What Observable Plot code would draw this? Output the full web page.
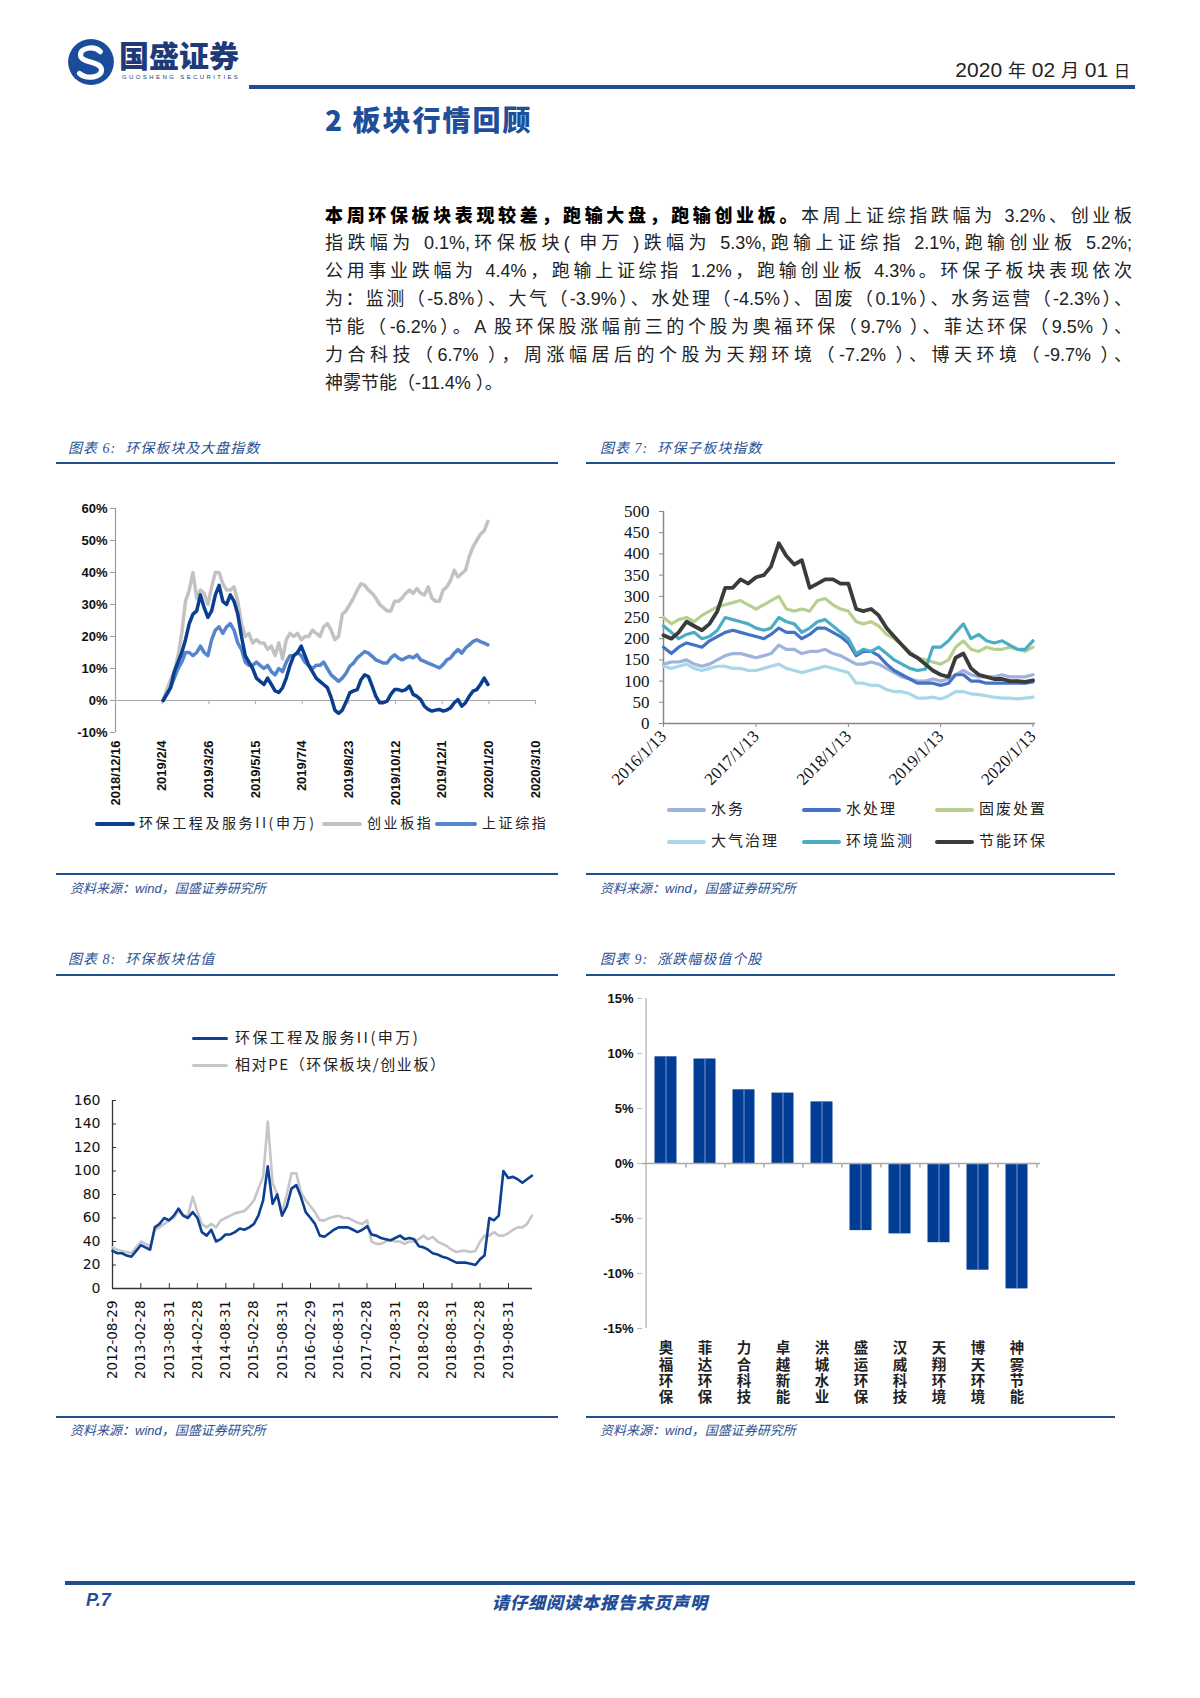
<!DOCTYPE html>
<html><head><meta charset="utf-8">
<script src="https://cdn.jsdelivr.net/npm/d3@7"></script>
<script src="https://cdn.jsdelivr.net/npm/@observablehq/plot@0.6"></script>
<style>
body{margin:0;background:#fff;}
#page{position:relative;width:1200px;height:1698px;overflow:hidden;font-family:"Liberation Sans","Noto Sans CJK SC",sans-serif;color:#111;}
.hl{position:absolute;background:#1f4e8d;}
.ct{position:absolute;font-style:italic;color:#2b5193;font-size:14px;font-family:"Liberation Serif","Noto Sans CJK SC",serif;white-space:nowrap;letter-spacing:1px;}
.src{position:absolute;font-style:italic;color:#2b5193;font-size:13px;font-family:"Liberation Sans","Noto Sans CJK SC",sans-serif;white-space:nowrap;}
.pl{position:absolute;left:325px;width:807px;height:28px;line-height:28px;font-size:18px;white-space:nowrap;text-align:justify;text-align-last:justify;font-family:"Liberation Sans Narrow","Liberation Sans","Noto Sans CJK SC",sans-serif;color:#222;}
.pl b{font-family:"Noto Sans CJK SC";font-weight:900;color:#000;}
.lg{position:absolute;white-space:nowrap;font-family:"Noto Sans CJK SC",sans-serif;color:#222;}
.lg span.s{display:inline-block;vertical-align:middle;}
</style>
</head><body>
<div id="page"></div>
<script>
// ---------------- DATA ----------------
// Chart 6: 环保板块及大盘指数 (readings every 4 days, %)
const c6FirstDate = "2019-02-05";
const c6StepDays = 4;
const c6Env = [0,2,4,9,12,15,19,24,27,28, 33,29,26,28,33,36,31,30,33,31, 27,20,14,12,10,7,6,5,7,5, 3,2.5,4,7,11,14,15,17,14,11, 9,7,6,5,4,1,-3,-4,-3,-0.5, 2.4,3,3.4,6.5,8,7.5,4.5,1.3,-0.7,-0.7, -0.2,1.9,3.4,3.4,3,3.4,4.5,1.9,1.3,0.3, -1.8,-2.8,-3.3,-3,-2.8,-3.3,-3,-2.3,-0.7,0.3, -1.8,-0.7,1.3,2.9,3.4,5,7,5];
const c6Gem = [0,3.4,6.5,9,14,21,31,34.5,40,32, 34.5,33.5,30,35.5,40,40,36.5,34.5,34.5,35.5, 31,24,20,21,18,19,18,18,16,17, 14,18,13,19,21,20,21,19,20,20, 22,21,20,23,24,22,19,20,27,28, 30,32,34.5,36.5,36,34.5,33.5,32,30,29, 28,28,31,31,32,33.5,34.5,33.5,35,33.5, 33,35.5,32,31,31,34.5,35.5,37.5,40.7,38.6, 39.7,40.7,45,48,50,52,53,56];
const c6Sh  = [0,2,4,7,10,12,15,15,14,15, 17,15,14,19,22,23,21,23,24,22, 18,16,12,11,11,12,11,10,11,9, 8,10,9,12,14,14,15,14,12,11, 10,11,11,12,10,8,7,6,7,8.5, 10.7,11.7,13.3,14.3,15.3,14.8,13.8,12.7,12.2,11.7, 11.7,13.3,14.3,13.3,12.7,13.3,13.8,13.3,14.3,12.7, 12.2,11.7,11.2,10.7,10.2,11.2,12.7,13.3,14.8,15.9, 14.8,16.4,17.4,18.4,19,18.4,17.9,17.4];
const c6Names = ["环保工程及服务II(申万)","创业板指","上证综指"];
const c6TickLabels = ["2018/12/16","2019/2/4","2019/3/26","2019/5/15","2019/7/4","2019/8/23","2019/10/12","2019/12/1","2020/1/20","2020/3/10"];
const c6YTicks = [-10,0,10,20,30,40,50,60];

// Chart 7: 环保子板块指数 (monthly readings)
const c7FirstDate = "2016-01-13";
const c7Names = ["水务","水处理","固废处置","大气治理","环境监测","节能环保"];
const c7ShuiWu   = [140,145,145,150,140,135,140,150,160,165,165,160,155,160,165,185,175,175,165,170,170,175,165,160,150,140,140,145,140,130,120,110,105,100,100,105,100,105,115,125,115,110,110,110,115,110,110,110,115];
const c7ShuiChuLi= [180,165,180,190,185,180,195,205,215,220,215,210,205,200,210,225,215,215,200,210,225,225,215,205,190,160,170,170,160,140,125,115,105,95,95,95,90,95,115,115,100,100,95,95,95,95,95,95,98];
const c7GuFei    = [250,235,245,250,240,255,265,275,280,285,290,280,270,280,290,300,270,265,270,265,290,295,280,270,265,240,235,240,230,210,200,185,170,155,150,145,140,150,180,195,175,170,180,175,175,180,175,170,180];
const c7DaQi     = [135,130,135,140,130,125,130,135,135,130,130,125,125,130,135,140,130,125,120,125,130,135,130,125,120,95,95,90,90,80,75,75,70,60,60,62,58,65,75,75,70,68,65,62,60,60,58,60,62];
const c7JianCe   = [230,215,200,210,215,200,205,220,250,245,240,235,225,220,225,250,240,235,215,225,240,245,230,215,200,165,175,170,180,165,150,140,130,125,128,180,180,195,215,235,200,210,195,190,195,185,175,175,195];
const c7JieNeng  = [208,200,215,240,230,220,235,265,320,320,340,330,345,350,370,425,395,375,385,320,330,340,340,330,330,270,265,270,255,225,205,185,165,155,140,125,115,110,155,165,130,115,110,105,105,100,100,98,102];
const c7TickLabels = ["2016/1/13","2017/1/13","2018/1/13","2019/1/13","2020/1/13"];
const c7YTicks = [0,50,100,150,200,250,300,350,400,450,500];

// Chart 8: 环保板块估值 (monthly readings)
const c8FirstDate = "2012-08-29";
const c8Names = ["环保工程及服务II(申万)","相对PE（环保板块/创业板）"];
const c8Pe = [32,30,30,28,27,32,37,35,33,52, 55,60,58,62,68,62,60,65,60,48, 45,50,40,42,46,46,48,51,50,52, 55,62,75,104,72,80,62,70,85,88, 78,65,60,55,45,44,47,50,52,52, 52,50,48,50,53,46,45,43,42,41, 43,45,42,43,42,36,35,33,30,29, 27,26,24,22,22,22,21,20,25,28, 60,58,62,100,94,95,93,90,93,96];
const c8Rel = [35,33,32,31,30,35,40,38,36,50, 52,55,58,60,66,62,62,78,65,55, 52,55,52,58,60,62,64,65,66,70, 75,85,95,142,90,80,65,80,98,98, 82,75,70,65,58,58,60,61,62,60, 60,58,56,55,58,40,38,38,40,41, 40,40,38,40,40,42,45,42,44,40, 38,36,33,31,32,32,31,32,40,45, 45,48,45,45,47,50,52,52,55,62];
const c8TickLabels = ["2012-08-29","2013-02-28","2013-08-31","2014-02-28","2014-08-31","2015-02-28","2015-08-31","2016-02-29","2016-08-31","2017-02-28","2017-08-31","2018-02-28","2018-08-31","2019-02-28","2019-08-31"];
const c8YTicks = [0,20,40,60,80,100,120,140,160];

// Chart 9: 涨跌幅极值个股 (%)
const c9Stocks = ["奥福环保","菲达环保","力合科技","卓越新能","洪城水业","盛运环保","汉威科技","天翔环境","博天环境","神雾节能"];
const c9Values = [9.7,9.5,6.7,6.4,5.6,-6.1,-6.4,-7.2,-9.7,-11.4];
const c9YTicks = [-15,-10,-5,0,5,10,15];

// ---------------- HELPERS ----------------
const page = document.getElementById("page");
const pd = s => { const [y,m,d] = s.split(/[\/-]/).map(Number); return new Date(Date.UTC(y,m-1,d)); };
function add(html){ const t=document.createElement("div"); t.innerHTML=html; while(t.firstChild) page.appendChild(t.firstChild); }
function placeSvg(svg,left,top){ svg.style.position="absolute"; svg.style.left=left+"px"; svg.style.top=top+"px"; page.appendChild(svg); }
function legend(x,y,color,text,opts){
  const o=Object.assign({lw:40,th:4,fs:14,ls:2.5,gap:5},opts||{});
  add(`<div class="lg" style="left:${x}px;top:${y-o.fs*0.75}px;font-size:${o.fs}px;letter-spacing:${o.ls}px;line-height:${o.fs*1.5}px"><span class="s" style="width:${o.lw}px;height:${o.th}px;background:${color};margin-right:${o.gap}px;border-radius:2px"></span>${text}</div>`);
}

// ---------------- PAGE FURNITURE ----------------
add(`<svg style="position:absolute;left:66px;top:37px" width="50" height="50" viewBox="0 0 48 48">
<circle cx="24" cy="24" r="22" fill="#1b4c9b"/>
<path d="M33 14 C27 8,13 10,14 18 C15 25,33 23,34 31 C35 39,20 41,13 35" stroke="#fff" stroke-width="5" fill="none" stroke-linecap="round"/>
</svg>`);
add(`<div style="position:absolute;left:119px;top:36px;font-size:30px;font-weight:900;color:#1e3a78;font-family:'Noto Sans CJK SC';letter-spacing:0px;line-height:36px">国盛证券</div>`);
add(`<div style="position:absolute;left:122px;top:74px;font-size:6px;color:#1e3a78;letter-spacing:2.4px;font-family:'Liberation Sans'">GUOSHENG SECURITIES</div>`);
add(`<div style="position:absolute;right:70px;top:57px;font-size:21px;color:#222;font-family:'Liberation Sans Narrow','Liberation Sans','Noto Sans CJK SC';line-height:26px">2020 <span style="font-size:18px">年</span> 02 <span style="font-size:18px">月</span> 01 <span style="font-size:16px">日</span></div>`);
add(`<div class="hl" style="left:249px;top:85px;width:886px;height:4px"></div>`);
add(`<div style="position:absolute;left:325px;top:101px;font-size:28px;font-weight:900;color:#1f4e9a;font-family:'Noto Sans CJK SC';letter-spacing:2px;line-height:36px">2 板块行情回顾</div>`);

const paraLines = [
 `<b>本周环保板块表现较差，跑输大盘，跑输创业板。</b>本周上证综指跌幅为 3.2%、创业板`,
 `指跌幅为 0.1%,环保板块( 申万 )跌幅为 5.3%,跑输上证综指 2.1%,跑输创业板 5.2%;`,
 `公用事业跌幅为 4.4%，跑输上证综指 1.2%，跑输创业板 4.3%。环保子板块表现依次`,
 `为：监测（-5.8%）、大气（-3.9%）、水处理（-4.5%）、固废（0.1%）、水务运营（-2.3%）、`,
 `节能（-6.2%）。A 股环保股涨幅前三的个股为奥福环保（9.7% ）、菲达环保（9.5% ）、`,
 `力合科技（6.7% ），周涨幅居后的个股为天翔环境（-7.2% ）、博天环境（-9.7% ）、`,
 `神雾节能（-11.4% ）。`
];
const paraY = [214,243,271,299,327,355,383];
paraLines.forEach((t,i)=>{
  const last = i===paraLines.length-1;
  add(`<div class="pl" style="top:${paraY[i]-14}px;${last?'text-align:left;text-align-last:left;':''}">${t}</div>`);
});

// section titles, rules, sources
add(`<div class="ct" style="left:68px;top:437px">图表 6:&nbsp; 环保板块及大盘指数</div>`);
add(`<div class="ct" style="left:600px;top:437px">图表 7:&nbsp; 环保子板块指数</div>`);
add(`<div class="hl" style="left:56px;top:462px;width:502px;height:1.5px"></div>`);
add(`<div class="hl" style="left:586px;top:462px;width:529px;height:1.5px"></div>`);
add(`<div class="hl" style="left:56px;top:873px;width:502px;height:1.5px"></div>`);
add(`<div class="hl" style="left:586px;top:873px;width:529px;height:1.5px"></div>`);
add(`<div class="src" style="left:70px;top:878px">资料来源：wind，国盛证券研究所</div>`);
add(`<div class="src" style="left:600px;top:878px">资料来源：wind，国盛证券研究所</div>`);
add(`<div class="ct" style="left:68px;top:948px">图表 8:&nbsp; 环保板块估值</div>`);
add(`<div class="ct" style="left:600px;top:948px">图表 9:&nbsp; 涨跌幅极值个股</div>`);
add(`<div class="hl" style="left:56px;top:974px;width:502px;height:1.5px"></div>`);
add(`<div class="hl" style="left:586px;top:974px;width:529px;height:1.5px"></div>`);
add(`<div class="hl" style="left:56px;top:1416px;width:502px;height:1.5px"></div>`);
add(`<div class="hl" style="left:586px;top:1416px;width:529px;height:1.5px"></div>`);
add(`<div class="src" style="left:70px;top:1420px">资料来源：wind，国盛证券研究所</div>`);
add(`<div class="src" style="left:600px;top:1420px">资料来源：wind，国盛证券研究所</div>`);
// footer
add(`<div class="hl" style="left:65px;top:1581px;width:1070px;height:3.5px"></div>`);
add(`<div style="position:absolute;left:86px;top:1590px;font-size:18px;font-weight:900;font-style:italic;color:#1f4e9a;font-family:'Liberation Sans'">P.7</div>`);
add(`<div style="position:absolute;left:480px;top:1589px;width:240px;text-align:center;font-size:17px;font-weight:900;font-style:italic;color:#1f4e9a;font-family:'Noto Sans CJK SC';letter-spacing:1px">请仔细阅读本报告末页声明</div>`);

// ---------------- CHART 6 ----------------
{
  const start = pd(c6FirstDate);
  const rows = [];
  [c6Env, c6Gem, c6Sh].forEach((vals,k)=>vals.forEach((v,i)=>rows.push({date:d3.utcDay.offset(start,i*c6StepDays), v, s:c6Names[k]})));
  const ticks = c6TickLabels.map(pd);
  const colors = {[c6Names[0]]:"#0b3d91",[c6Names[1]]:"#c2c2c2",[c6Names[2]]:"#5585cc"};
  const drawOrder = [c6Names[1], c6Names[2], c6Names[0]];
  const svg = Plot.plot({
    width:520, height:340, marginLeft:75, marginTop:18, marginBottom:98, marginRight:25,
    style:{fontFamily:"Liberation Sans", fontSize:"13px", color:"#111", background:"transparent", fontWeight:"bold"},
    x:{type:"utc", domain:[ticks[0], ticks[ticks.length-1]], label:null},
    y:{domain:[-10,60], label:null},
    marks:[
      Plot.axisY({ticks:c6YTicks, tickFormat:d=>d+"%", tickSize:5, tickPadding:3, stroke:"#999", fill:"#111", label:null}),
      Plot.axisX({ticks, tickFormat:d=>`${d.getUTCFullYear()}/${d.getUTCMonth()+1}/${d.getUTCDate()}`, tickRotate:-90, tickSize:0, tickPadding:8, fill:"#111", fontSize:13, label:null}),
      Plot.ruleX([ticks[0]], {stroke:"#999", strokeWidth:1.2}),
      Plot.ruleY([0], {stroke:"#aaa", strokeWidth:1.2}),
      Plot.ruleX(ticks, {y1:0, y2:-1.3, stroke:"#aaa"}),
      ...drawOrder.map(n=>Plot.line(rows.filter(r=>r.s===n), {x:"date", y:"v", stroke:colors[n], strokeWidth:3.5}))
    ]
  });
  placeSvg(svg, 40, 490);
  legend(95, 822, colors[c6Names[0]], c6Names[0], {lw:40, fs:14, ls:2.6, gap:4});
  legend(322, 822, colors[c6Names[1]], c6Names[1], {lw:40, fs:14, ls:2.6, gap:5});
  legend(435, 822, colors[c6Names[2]], c6Names[2], {lw:42, fs:14, ls:2.6, gap:5});
}

// ---------------- CHART 7 ----------------
{
  const start = pd(c7FirstDate);
  const series = [c7ShuiWu, c7ShuiChuLi, c7GuFei, c7DaQi, c7JianCe, c7JieNeng];
  const colors = ["#9fb2dc","#4472c4","#b8d08e","#a8d8e8","#4bacc6","#3b3b3b"];
  const rows = [];
  series.forEach((vals,k)=>vals.forEach((v,i)=>rows.push({date:d3.utcMonth.offset(start,i), v, s:c7Names[k]})));
  const ticks = c7TickLabels.map(pd);
  const svg = Plot.plot({
    width:560, height:330, marginLeft:103, marginTop:21, marginBottom:97, marginRight:85,
    style:{fontFamily:"Liberation Serif", fontSize:"17px", color:"#111", background:"transparent"},
    x:{type:"utc", domain:[ticks[0], pd("2020-01-23")], label:null},
    y:{domain:[0,500], label:null},
    marks:[
      Plot.axisY({ticks:c7YTicks, tickSize:4, tickPadding:10, stroke:"#888", fill:"#111", label:null}),
      Plot.axisX({ticks, tickFormat:d=>`${d.getUTCFullYear()}/${d.getUTCMonth()+1}/${d.getUTCDate()}`, tickRotate:-45, tickSize:4, tickPadding:6, stroke:"#888", fill:"#111", label:null}),
      Plot.ruleX([ticks[0]], {stroke:"#888", strokeWidth:1.5}),
      Plot.ruleY([0], {stroke:"#888", strokeWidth:1.5}),
      ...c7Names.map((n,k)=>Plot.line(rows.filter(r=>r.s===n), {x:"date", y:"v", stroke:colors[k], strokeWidth:k===5?3.8:3.2}))
    ]
  });
  placeSvg(svg, 560, 490);
  const lx = [667, 802, 935], ly = [808, 840];
  c7Names.forEach((n,k)=>legend(lx[k%3], ly[Math.floor(k/3)], colors[k], n, {lw:39, th:4, fs:15, ls:2, gap:5}));
}

// ---------------- CHART 8 ----------------
{
  const start = pd(c8FirstDate);
  const rows = [];
  [c8Pe, c8Rel].forEach((vals,k)=>vals.forEach((v,i)=>rows.push({date:d3.utcMonth.offset(start,i), v, s:c8Names[k]})));
  const ticks = c8TickLabels.map(pd);
  const svg = Plot.plot({
    width:520, height:300, marginLeft:72, marginTop:20, marginBottom:92, marginRight:28,
    style:{fontFamily:"DejaVu Sans", fontSize:"14px", color:"#111", background:"transparent"},
    x:{type:"utc", domain:[ticks[0], pd("2020-02-02")], label:null},
    y:{domain:[0,160], label:null},
    marks:[
      Plot.axisY({ticks:c8YTicks, tickSize:0, tickPadding:12, fill:"#111", label:null}),
      Plot.axisY({ticks:c8YTicks, tickSize:4, dx:4, tickFormat:()=>"", stroke:"#333", label:null}),
      Plot.axisX({ticks, tickFormat:d3.utcFormat("%Y-%m-%d"), tickRotate:-90, tickSize:0, tickPadding:12, fill:"#111", fontSize:13.5, label:null}),
      Plot.axisX({ticks, tickSize:5, dy:-5, tickFormat:()=>"", stroke:"#333", label:null}),
      Plot.ruleX([ticks[0]], {stroke:"#333", strokeWidth:1.3}),
      Plot.ruleY([0], {stroke:"#333", strokeWidth:1.3}),
      Plot.line(rows.filter(r=>r.s===c8Names[1]), {x:"date", y:"v", stroke:"#c6c6c6", strokeWidth:2.6}),
      Plot.line(rows.filter(r=>r.s===c8Names[0]), {x:"date", y:"v", stroke:"#0d3f93", strokeWidth:2.6})
    ]
  });
  placeSvg(svg, 40, 1080);
  legend(192, 1037, "#0d3f93", c8Names[0], {lw:36, th:3, fs:15, ls:2.4, gap:7});
  legend(192, 1064, "#c6c6c6", c8Names[1], {lw:36, th:3, fs:15, ls:1.6, gap:7});
}

// ---------------- CHART 9 ----------------
{
  const rows = c9Stocks.map((n,i)=>({n, v:c9Values[i]}));
  const W = 520, mL = 82, mR = 40, step = (W-mL-mR)/c9Stocks.length;
  const svg = Plot.plot({
    width:W, height:440, marginLeft:mL, marginTop:18, marginBottom:92, marginRight:mR,
    style:{fontFamily:"Liberation Sans", fontSize:"13px", color:"#111", background:"transparent", fontWeight:"bold"},
    x:{domain:c9Stocks, padding:0, label:null, axis:null},
    y:{domain:[-15,15], label:null},
    marks:[
      Plot.axisY({ticks:c9YTicks, tickFormat:d=>d+"%", tickSize:5, tickPadding:4, stroke:"#bbb", fill:"#111", label:null}),
      Plot.barY(rows, {x:"n", y:"v", fill:"#023d95", insetLeft:8.5, insetRight:8.5}),
      Plot.ruleX(rows, {x:"n", y1:0, y2:"v", stroke:"#7d95cc", strokeWidth:1}),
      Plot.ruleX(rows, {x:"n", y1:0, y2:-0.4, dx:step/2, stroke:"#aaa", strokeWidth:1.5}),
      Plot.ruleX([c9Stocks[0]], {x:d=>d, dx:-step/2, stroke:"#bbb", strokeWidth:1.5}),
      Plot.ruleY([0], {stroke:"#aaa", strokeWidth:1.5}),
      Plot.text(rows, {x:"n", text:"n", frameAnchor:"bottom", dy:12, textAnchor:"start", fontSize:14.5, fontFamily:"Noto Sans CJK SC", fontWeight:"bold", fill:"#222"})
    ]
  });
  // stock names are written top-to-bottom, one character under the other
  d3.select(svg).selectAll("text").filter(function(){ return c9Stocks.includes(this.textContent); })
    .attr("dy", null)
    .style("writing-mode", "vertical-rl")
    .style("text-orientation", "upright")
    .style("letter-spacing", "1.8px");
  placeSvg(svg, 560, 980);
}
</script>
</body></html>
